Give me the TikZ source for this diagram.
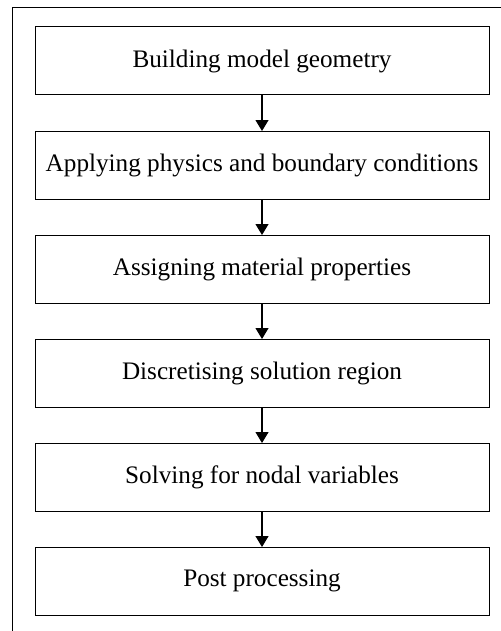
\documentclass[tikz,border=0pt]{standalone}
\usepackage{fontspec}
\setmainfont{Liberation Serif}
\usepackage{tikz}
\usetikzlibrary{arrows.meta,positioning}

\begin{document}
\begin{tikzpicture}
	\useasboundingbox (0,0) rectangle (250.5pt,-315.5pt);
	% outer frame (only top and left edges show)
	\draw[line width=0.5pt] (6pt,-315.5pt) -- (6pt,-4pt) -- (250.5pt,-4pt);

	\begin{scope}[every node/.style={rectangle,draw,line width=0.5pt,minimum height=34pt,minimum width=227pt,inner sep=0pt,outer sep=0pt,font=\fontsize{12.6}{14}\selectfont}]
		\node (geom) at (131pt,-30.5pt) {Building model geometry};
		\node[below =18pt of geom] (phys) {Applying physics and boundary conditions};
		\node[below =18pt of phys] (mat) {Assigning material properties};
		\node[below =18pt of mat] (mesh) {Discretising solution region};
		\node[below =18pt of mesh] (solve) {Solving for nodal variables};
		\node[below =18pt of solve] (post) {Post processing};
	\end{scope}

	\begin{scope}
	\draw[-{Triangle[length=5.5pt,width=6.5pt]},line width=0.6pt] (geom) edge (phys);
	\draw[-{Triangle[length=5.5pt,width=6.5pt]},line width=0.6pt] (phys) edge (mat);
	\draw[-{Triangle[length=5.5pt,width=6.5pt]},line width=0.6pt] (mat) edge (mesh);
	\draw[-{Triangle[length=5.5pt,width=6.5pt]},line width=0.6pt] (mesh) edge (solve);
	\draw[-{Triangle[length=5.5pt,width=6.5pt]},line width=0.6pt] (solve) edge (post);
	\end{scope}
\end{tikzpicture}
\end{document}
